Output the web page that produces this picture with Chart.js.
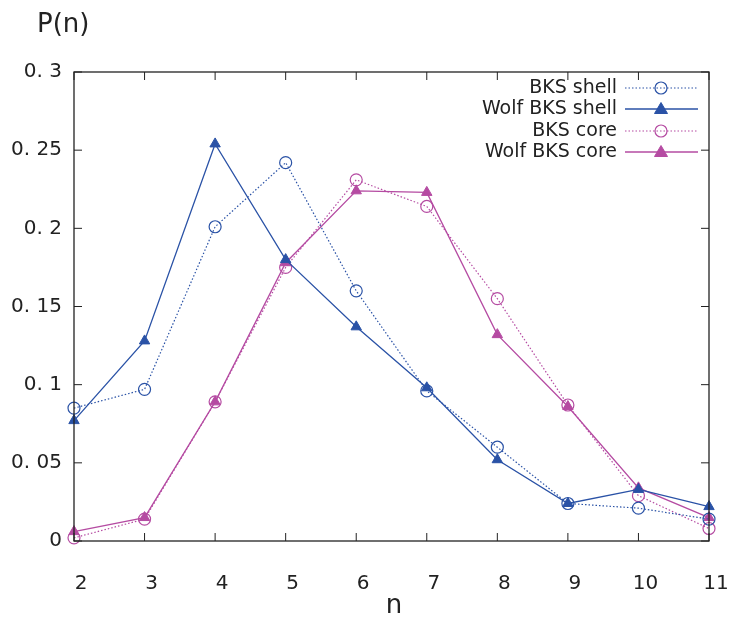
<!DOCTYPE html>
<html>
<head>
<meta charset="utf-8">
<script src="https://cdn.jsdelivr.net/npm/chart.js@4.4.0/dist/chart.umd.min.js"></script>
<style>
  body { margin: 0; background: #fff; }
  #wrap { width: 729px; height: 619px; }
</style>
</head>
<body>
<div id="wrap"><canvas id="js--chart"></canvas></div>
<script>
const nValues = [2, 3, 4, 5, 6, 7, 8, 9, 10, 11];
const bksShell = [0.085, 0.097, 0.201, 0.242, 0.160, 0.096, 0.060, 0.024, 0.021, 0.014];
const wolfShell = [0.077, 0.128, 0.254, 0.180, 0.137, 0.098, 0.052, 0.024, 0.033, 0.022];
const bksCore = [0.002, 0.014, 0.089, 0.175, 0.231, 0.214, 0.155, 0.087, 0.029, 0.008];
const wolfCore = [0.006, 0.015, 0.089, 0.178, 0.224, 0.223, 0.132, 0.086, 0.034, 0.015];
const yTicks = [0, 0.05, 0.1, 0.15, 0.2, 0.25, 0.3];
const yTickLabels = ["0", "0. 05", "0. 1", "0. 15", "0. 2", "0. 25", "0. 3"];

const blue = '#2a52a6';
const pink = '#b54ba2';
const font = "'DejaVu Sans', sans-serif";

function toPoints(arr) {
    return arr.map((v, i) => ({ x: nValues[i], y: v }));
}

const data = {
    datasets: [
        {
            label: "BKS shell",
            data: toPoints(bksShell),
            borderColor: blue,
            borderWidth: 1.2,
            borderDash: [1.5, 2],
            pointStyle: 'circle',
            pointRadius: 6,
            pointBorderWidth: 1.2,
            pointBackgroundColor: 'transparent',
            pointBorderColor: blue,
        },
        {
            label: "Wolf BKS shell",
            data: toPoints(wolfShell),
            borderColor: blue,
            borderWidth: 1.3,
            pointStyle: 'triangle',
            pointRadius: 6,
            pointBorderWidth: 1,
            pointBackgroundColor: blue,
            pointBorderColor: blue,
        },
        {
            label: "BKS core",
            data: toPoints(bksCore),
            borderColor: pink,
            borderWidth: 1.2,
            borderDash: [1.5, 2],
            pointStyle: 'circle',
            pointRadius: 6,
            pointBorderWidth: 1.2,
            pointBackgroundColor: 'transparent',
            pointBorderColor: pink,
        },
        {
            label: "Wolf BKS core",
            data: toPoints(wolfCore),
            borderColor: pink,
            borderWidth: 1.3,
            pointStyle: 'triangle',
            pointRadius: 6,
            pointBorderWidth: 1,
            pointBackgroundColor: pink,
            pointBorderColor: pink,
        }
    ]
};

// frame, inward ticks, axis titles, legend (gnuplot look)
const gnuplotLook = {
    id: 'gnuplotLook',
    afterDraw(chart) {
        const ctx = chart.ctx;
        const a = chart.chartArea;
        const xs = chart.scales.x;
        const ys = chart.scales.y;
        ctx.save();
        ctx.strokeStyle = '#222';
        ctx.lineWidth = 1.3;
        ctx.strokeRect(a.left, a.top, a.right - a.left, a.bottom - a.top);
        ctx.lineWidth = 1;
        ctx.beginPath();
        nValues.forEach(n => {
            const px = xs.getPixelForValue(n);
            ctx.moveTo(px, a.bottom); ctx.lineTo(px, a.bottom - 8);
            ctx.moveTo(px, a.top); ctx.lineTo(px, a.top + 8);
        });
        yTicks.forEach(v => {
            const py = ys.getPixelForValue(v);
            ctx.moveTo(a.left, py); ctx.lineTo(a.left + 8, py);
            ctx.moveTo(a.right, py); ctx.lineTo(a.right - 8, py);
        });
        ctx.stroke();

        ctx.fillStyle = '#222';
        ctx.font = '26px ' + font;
        ctx.textAlign = 'left';
        ctx.textBaseline = 'middle';
        ctx.fillText('P(n)', 37, 25);
        ctx.textAlign = 'center';
        ctx.fillText('n', 394, 606);

        // legend
        ctx.font = '19px ' + font;
        ctx.textAlign = 'right';
        const rowY = [88, 109, 131, 152];
        chart.data.datasets.forEach((ds, i) => {
            const y = rowY[i];
            ctx.fillStyle = '#222';
            ctx.fillText(ds.label, 617, y);
            ctx.strokeStyle = ds.borderColor;
            ctx.lineWidth = ds.borderWidth;
            ctx.setLineDash(ds.borderDash || []);
            ctx.beginPath();
            ctx.moveTo(625, y); ctx.lineTo(698, y);
            ctx.stroke();
            ctx.setLineDash([]);
            ctx.fillStyle = ds.pointBackgroundColor;
            ctx.strokeStyle = ds.pointBorderColor;
            ctx.lineWidth = ds.pointBorderWidth;
            ctx.beginPath();
            if (ds.pointStyle === 'circle') {
                ctx.arc(661, y, 6, 0, Math.PI * 2);
                ctx.stroke();
            } else {
                ctx.moveTo(661, y - 6.5);
                ctx.lineTo(667.5, y + 4.5);
                ctx.lineTo(654.5, y + 4.5);
                ctx.closePath();
                ctx.fill();
                ctx.stroke();
            }
        });
        ctx.restore();
    }
};

const config = {
    type: 'line',
    data: data,
    options: {
        responsive: true,
        maintainAspectRatio: false,
        animation: false,
        layout: { padding: { left: 0, right: 20, top: 72, bottom: 0 } },
        elements: { line: { tension: 0 } },
        datasets: { line: { clip: false } },
        plugins: { legend: { display: false }, tooltip: { enabled: false } },
        scales: {
            x: {
                type: 'linear',
                min: 2,
                max: 11,
                afterFit: (s) => { s.height = 78; s.paddingLeft = 0; s.paddingRight = 0; },
                afterBuildTicks: (s) => { s.ticks = nValues.map(v => ({ value: v })); },
                grid: { display: false, drawTicks: false },
                border: { display: false },
                ticks: {
                    color: '#222',
                    font: { family: font, size: 20 },
                    padding: 31,
                    labelOffset: 7,
                    maxRotation: 0,
                    autoSkip: false,
                    callback: (v) => String(v),
                },
            },
            y: {
                min: 0,
                max: 0.3,
                afterFit: (s) => { s.width = 74; s.paddingTop = 0; s.paddingBottom = 0; },
                afterBuildTicks: (s) => { s.ticks = yTicks.map(v => ({ value: v })); },
                grid: { display: false, drawTicks: false },
                border: { display: false },
                ticks: {
                    color: '#222',
                    font: { family: font, size: 20 },
                    padding: 12,
                    autoSkip: false,
                    callback: (v) => {
                        const i = yTicks.findIndex(t => Math.abs(t - v) < 1e-9);
                        return i >= 0 ? yTickLabels[i] : '';
                    },
                },
            },
        },
    },
    plugins: [gnuplotLook],
};

const chart = new Chart(document.getElementById("js--chart"), config);
</script>
</body>
</html>
